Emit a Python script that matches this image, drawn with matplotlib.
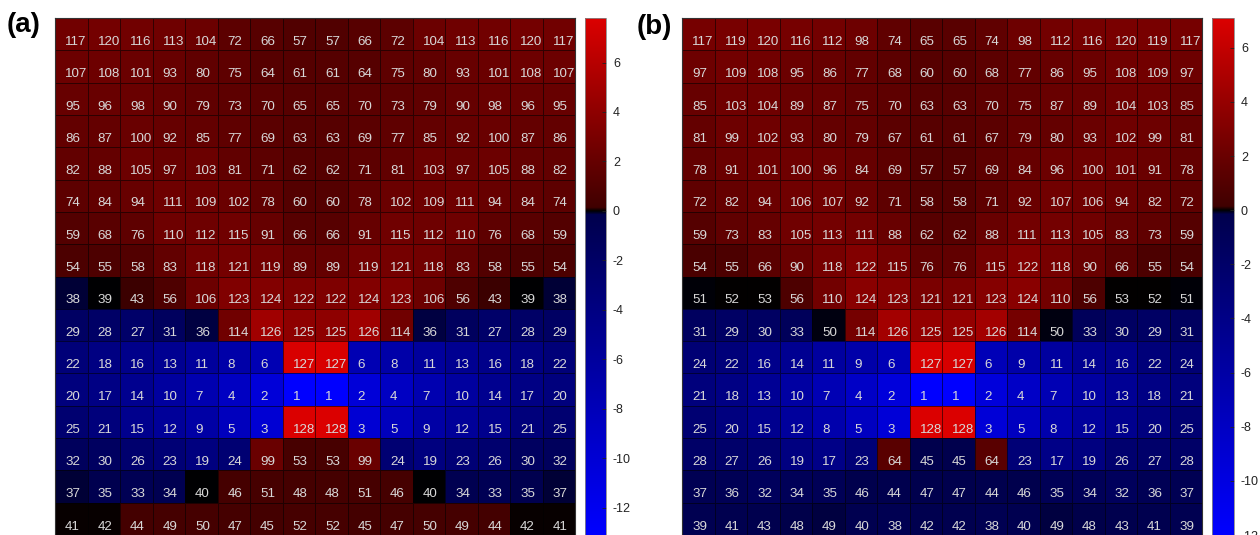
import numpy as np
import matplotlib
matplotlib.use("Agg")
import matplotlib.pyplot as plt
from matplotlib.colors import LinearSegmentedColormap, Normalize

plt.rcParams['font.family'] = ['Liberation Sans', 'DejaVu Sans']
plt.rcParams['axes.unicode_minus'] = False

# ---- cell labels (numbers printed in each cell) ----
labels_a = [
    [117, 120, 116, 113, 104, 72, 66, 57, 57, 66, 72, 104, 113, 116, 120, 117],
    [107, 108, 101, 93, 80, 75, 64, 61, 61, 64, 75, 80, 93, 101, 108, 107],
    [95, 96, 98, 90, 79, 73, 70, 65, 65, 70, 73, 79, 90, 98, 96, 95],
    [86, 87, 100, 92, 85, 77, 69, 63, 63, 69, 77, 85, 92, 100, 87, 86],
    [82, 88, 105, 97, 103, 81, 71, 62, 62, 71, 81, 103, 97, 105, 88, 82],
    [74, 84, 94, 111, 109, 102, 78, 60, 60, 78, 102, 109, 111, 94, 84, 74],
    [59, 68, 76, 110, 112, 115, 91, 66, 66, 91, 115, 112, 110, 76, 68, 59],
    [54, 55, 58, 83, 118, 121, 119, 89, 89, 119, 121, 118, 83, 58, 55, 54],
    [38, 39, 43, 56, 106, 123, 124, 122, 122, 124, 123, 106, 56, 43, 39, 38],
    [29, 28, 27, 31, 36, 114, 126, 125, 125, 126, 114, 36, 31, 27, 28, 29],
    [22, 18, 16, 13, 11, 8, 6, 127, 127, 6, 8, 11, 13, 16, 18, 22],
    [20, 17, 14, 10, 7, 4, 2, 1, 1, 2, 4, 7, 10, 14, 17, 20],
    [25, 21, 15, 12, 9, 5, 3, 128, 128, 3, 5, 9, 12, 15, 21, 25],
    [32, 30, 26, 23, 19, 24, 99, 53, 53, 99, 24, 19, 23, 26, 30, 32],
    [37, 35, 33, 34, 40, 46, 51, 48, 48, 51, 46, 40, 34, 33, 35, 37],
    [41, 42, 44, 49, 50, 47, 45, 52, 52, 45, 47, 50, 49, 44, 42, 41],
]
labels_b = [
    [117, 119, 120, 116, 112, 98, 74, 65, 65, 74, 98, 112, 116, 120, 119, 117],
    [97, 109, 108, 95, 86, 77, 68, 60, 60, 68, 77, 86, 95, 108, 109, 97],
    [85, 103, 104, 89, 87, 75, 70, 63, 63, 70, 75, 87, 89, 104, 103, 85],
    [81, 99, 102, 93, 80, 79, 67, 61, 61, 67, 79, 80, 93, 102, 99, 81],
    [78, 91, 101, 100, 96, 84, 69, 57, 57, 69, 84, 96, 100, 101, 91, 78],
    [72, 82, 94, 106, 107, 92, 71, 58, 58, 71, 92, 107, 106, 94, 82, 72],
    [59, 73, 83, 105, 113, 111, 88, 62, 62, 88, 111, 113, 105, 83, 73, 59],
    [54, 55, 66, 90, 118, 122, 115, 76, 76, 115, 122, 118, 90, 66, 55, 54],
    [51, 52, 53, 56, 110, 124, 123, 121, 121, 123, 124, 110, 56, 53, 52, 51],
    [31, 29, 30, 33, 50, 114, 126, 125, 125, 126, 114, 50, 33, 30, 29, 31],
    [24, 22, 16, 14, 11, 9, 6, 127, 127, 6, 9, 11, 14, 16, 22, 24],
    [21, 18, 13, 10, 7, 4, 2, 1, 1, 2, 4, 7, 10, 13, 18, 21],
    [25, 20, 15, 12, 8, 5, 3, 128, 128, 3, 5, 8, 12, 15, 20, 25],
    [28, 27, 26, 19, 17, 23, 64, 45, 45, 64, 23, 17, 19, 26, 27, 28],
    [37, 36, 32, 34, 35, 46, 44, 47, 47, 44, 46, 35, 34, 32, 36, 37],
    [39, 41, 43, 48, 49, 40, 38, 42, 42, 38, 40, 49, 48, 43, 41, 39],
]

# ---- estimated colour value for each label (label 1..128) ----
value_by_label_a = [
    -13.1, -10.3, -9.9, -8.7, -8.3, -7.6, -7.4, -6.8, -6.6, -6.1,
    -5.9, -5.7, -5.15, -5.0, -4.8, -4.6, -4.2, -4.0, -3.85, -3.7,
    -3.5, -3.3, -3.1, -2.9, -2.75, -2.55, -2.2, -2.0, -1.8, -1.6,
    -1.45, -1.25, -0.7, -0.5, -0.35, -0.12, -0.11, -0.1, -0.01, -0.01,
    0.01, 0.02, 0.14, 0.35, 0.37, 0.38, 0.39, 0.40, 0.42, 0.43,
    0.45, 0.46, 0.48, 0.75, 0.8, 0.85, 1.0, 1.05, 1.1, 1.15,
    1.18, 1.2, 1.22, 1.25, 1.28, 1.3, 1.35, 1.4, 1.45, 1.5,
    1.52, 1.55, 1.58, 1.6, 1.62, 1.65, 1.68, 1.7, 1.72, 1.75,
    1.78, 1.8, 1.82, 1.85, 1.88, 1.9, 1.92, 1.95, 1.98, 2.0,
    2.02, 2.04, 2.06, 2.08, 2.1, 2.12, 2.14, 2.16, 2.18, 2.2,
    2.22, 2.24, 2.26, 2.28, 2.3, 2.32, 2.34, 2.36, 2.38, 2.4,
    2.42, 2.44, 2.46, 2.5, 2.52, 2.55, 2.58, 2.6, 2.65, 2.7,
    2.75, 3.2, 3.3, 3.4, 4.0, 4.9, 7.6, 7.8,
]
value_by_label_b = [
    -12.0, -9.6, -9.3, -8.2, -7.8, -7.2, -7.0, -6.5, -6.3, -5.8,
    -5.6, -5.4, -4.9, -4.7, -4.5, -4.3, -4.0, -3.8, -3.6, -3.5,
    -3.3, -3.1, -2.9, -2.75, -2.6, -2.4, -2.1, -1.9, -1.7, -1.55,
    -1.4, -1.2, -1.05, -0.9, -0.8, -0.7, -0.6, -0.5, -0.42, -0.38,
    -0.34, -0.3, -0.27, -0.24, -0.21, -0.19, -0.17, -0.15, -0.13, -0.03,
    -0.01, 0.0, 0.01, 0.6, 0.7, 0.75, 1.0, 1.05, 1.1, 1.15,
    1.18, 1.2, 1.22, 1.25, 1.28, 1.3, 1.35, 1.4, 1.45, 1.5,
    1.52, 1.55, 1.58, 1.6, 1.62, 1.65, 1.68, 1.7, 1.72, 1.75,
    1.78, 1.8, 1.82, 1.85, 1.88, 1.9, 1.92, 1.95, 1.98, 2.0,
    2.02, 2.04, 2.06, 2.08, 2.1, 2.12, 2.14, 2.16, 2.18, 2.2,
    2.22, 2.24, 2.26, 2.28, 2.3, 2.32, 2.34, 2.36, 2.38, 2.4,
    2.42, 2.44, 2.46, 2.5, 2.52, 2.55, 2.58, 2.6, 2.65, 2.7,
    2.75, 3.1, 3.25, 3.4, 3.9, 4.6, 6.9, 7.1,
]

cbar_ticks = [-12, -10, -8, -6, -4, -2, 0, 2, 4, 6]
range_a = (-13.1, 7.8)
range_b = (-12.0, 7.1)
panel_titles = ['(a)', '(b)']

W, H = 1260, 535
fig = plt.figure(figsize=(W / 100, H / 100), dpi=100)


def px(x, y, w, h):
    return [x / W, 1 - (y + h) / H, w / W, h / H]


def make_cmap(vmin, vmax):
    def p(v):
        return (v - vmin) / (vmax - vmin)
    nodes = [(0.0, (0, 0, 1)), (p(-0.15), (0, 0, 0.30)), (p(0.0), (0, 0, 0)),
             (p(0.15), (0.25, 0, 0)), (1.0, (0.86, 0, 0.0))]
    return LinearSegmentedColormap.from_list('rb', nodes, N=1024)


def draw(ax_rect, cax_rect, labels, lut, rng, title, title_xy):
    ax = fig.add_axes(px(*ax_rect))
    cax = fig.add_axes(px(*cax_rect))
    lab = np.array(labels)
    vals = np.array(lut)[lab - 1]
    norm = Normalize(vmin=rng[0], vmax=rng[1])
    cmap = make_cmap(*rng)
    mesh = ax.pcolormesh(vals, cmap=cmap, norm=norm,
                         edgecolors=(0, 0, 0, 0.55), linewidth=0.6)
    ax.set_xlim(0, lab.shape[1])
    ax.set_ylim(lab.shape[0], 0)
    ax.set_xticks([])
    ax.set_yticks([])
    for s in ax.spines.values():
        s.set_color('#333333')
        s.set_linewidth(0.8)
    for i in range(lab.shape[0]):
        for j in range(lab.shape[1]):
            ax.text(j + 0.31, i + 0.74, str(lab[i, j]), ha='left', va='center',
                    color='#d8d8d8', fontsize=9.6)
    cb = fig.colorbar(mesh, cax=cax, ticks=cbar_ticks)
    cb.ax.tick_params(direction='in', length=3, width=0.6, labelsize=9,
                      colors='#222222', pad=5)
    cb.outline.set_edgecolor('#888888')
    cb.outline.set_linewidth(0.6)
    fig.text(title_xy[0] / W, 1 - title_xy[1] / H, title, fontsize=20,
             fontweight='bold', ha='center', va='center')


draw((55, 18, 520, 517), (585, 18, 21, 517), labels_a, value_by_label_a,
     range_a, panel_titles[0], (24, 25))
draw((682, 18, 520, 517), (1212, 18, 22, 517), labels_b, value_by_label_b,
     range_b, panel_titles[1], (654, 27))

fig.savefig('out.png', dpi=100)
